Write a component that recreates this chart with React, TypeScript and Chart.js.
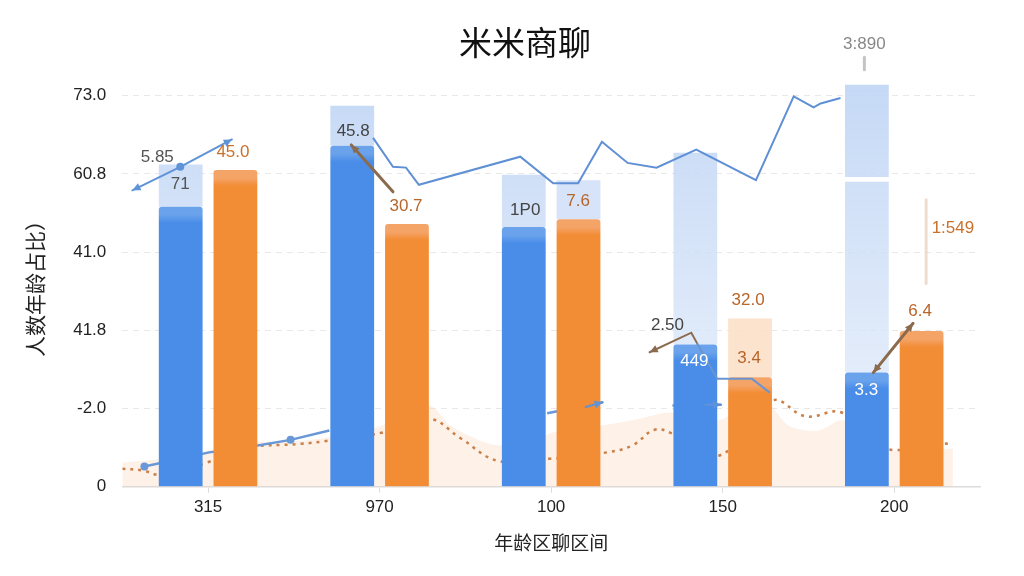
import { useEffect, useRef } from 'react';
import { Chart, registerables } from 'chart.js';

Chart.register(...registerables);

const FONT = "'Liberation Sans', 'Noto Sans CJK SC', sans-serif";
const CJK = "'Noto Sans CJK SC', 'Liberation Sans', sans-serif";

const chartTitle = '米米商聊';
const xTitle = '年龄区聊区间';
const yTitle = '人数年龄占比）';

const categories = ['315', '970', '100', '150', '200'];
const yTickValues = [0, 1, 2, 3, 4, 5];
const yTickLabels = ['0', '-2.0', '41.8', '41.0', '60.8', '73.0'];

const blueValues = [3.58, 4.36, 3.32, 1.82, 1.46];
const orangeValues = [4.05, 3.36, 3.42, 1.40, 1.99];

// pale bars standing behind the solid ones
const blueGhost = [[3.58, 4.12], [4.36, 4.87], [3.32, 3.99], [1.82, 4.27], [1.46, 3.90]];
const blueGhostTop = [null, null, null, null, [3.96, 5.14]];
const orangeGhost = [null, null, [3.42, 3.92], [1.40, 2.15], null];
const orangeGhostColors = ['#fbe3cf', '#fbe3cf', 'rgba(200,218,245,0.75)', 'rgba(251,222,196,0.85)', '#fbe3cf'];

const upperLine: [number, number][] = [
  [0.962, 4.46], [1.078, 4.09], [1.154, 4.08], [1.229, 3.86], [1.820, 4.22], [2.012, 3.88],
  [2.157, 3.88], [2.296, 4.41], [2.446, 4.14], [2.614, 4.08], [2.846, 4.31], [3.194, 3.92],
  [3.414, 4.99], [3.530, 4.85], [3.571, 4.90], [3.687, 4.97],
];

const lowerLine: ([number, number] | null)[] = [
  [-0.371, 0.26], [0.006, 0.44], [0.186, 0.49], [0.481, 0.60], [0.707, 0.72], null,
  [1.977, 0.94], [2.301, 1.08], null, [2.707, 1.04], [2.991, 1.05],
];

const dottedLine: [number, number][] = [
  [-0.5, 0.23], [-0.383, 0.21], [-0.267, 0.15], [-0.006, 0.31], [0.197, 0.49], [0.545, 0.55],
  [0.672, 0.58], [1.009, 0.69], [1.287, 0.87], [1.472, 0.62], [1.693, 0.33], [1.994, 0.36],
  [2.325, 0.44], [2.475, 0.53], [2.603, 0.73], [2.707, 0.68], [2.980, 0.40], [3.287, 1.10],
  [3.484, 0.90], [3.693, 0.95], [3.849, 0.59], [4.006, 0.47], [4.330, 0.56],
];

const areaLine: [number, number][] = [
  [-0.5, 0.31], [-0.267, 0.36], [-0.006, 0.46], [0.197, 0.56], [0.545, 0.59], [0.719, 0.64],
  [1.009, 0.78], [1.287, 1.04], [1.414, 0.78], [1.588, 0.59], [1.704, 0.53], [1.878, 0.59],
  [2.052, 0.72], [2.284, 0.78], [2.516, 0.87], [2.690, 0.95], [2.980, 0.85], [3.212, 1.17],
  [3.386, 0.78], [3.559, 0.72], [3.704, 0.85], [3.849, 0.53], [4.023, 0.46], [4.342, 0.49],
];

const valueLabels = [
  { text: '5.85', x: -0.296, y: 4.21, color: '#555' },
  { text: '71', x: -0.162, y: 3.87, color: '#555' },
  { text: '45.0', x: 0.145, y: 4.28, color: '#c8712c' },
  { text: '45.8', x: 0.846, y: 4.55, color: '#444' },
  { text: '30.7', x: 1.154, y: 3.58, color: '#b8652a' },
  { text: '1P0', x: 1.849, y: 3.53, color: '#444' },
  { text: '7.6', x: 2.157, y: 3.65, color: '#b8652a' },
  { text: '2.50', x: 2.678, y: 2.06, color: '#444' },
  { text: '449', x: 2.835, y: 1.60, color: '#fff' },
  { text: '32.0', x: 3.148, y: 2.38, color: '#b8652a' },
  { text: '3.4', x: 3.154, y: 1.64, color: '#b8652a' },
  { text: '3:890', x: 3.826, y: 5.65, color: '#888' },
  { text: '1:549', x: 4.342, y: 3.31, color: '#c8712c' },
  { text: '6.4', x: 4.151, y: 2.24, color: '#b8652a' },
  { text: '3.3', x: 3.838, y: 1.23, color: '#fff' },
];

const pointers = [
  { pts: [[-0.441, 3.79], [-0.162, 4.09], [0.139, 4.44]], color: '#5f93d8', width: 2, headStart: true, headEnd: true, dot: 1 },
  { pts: [[1.078, 3.77], [0.835, 4.37]], color: '#8b6b4e', width: 3, headStart: false, headEnd: true, dot: -1 },
  { pts: [[2.574, 1.72], [2.817, 1.97], [2.852, 1.83]], color: '#8b6b4e', width: 2, headStart: true, headEnd: false, dot: -1 },
  { pts: [[2.852, 1.83], [2.968, 1.38], [3.171, 1.38], [3.270, 1.21]], color: '#6a95cf', width: 2, headStart: false, headEnd: false, dot: -1 },
  { pts: [[3.878, 1.46], [4.110, 2.09]], color: '#8b6b4e', width: 3, headStart: true, headEnd: true, dot: -1 },
  { pts: [[2.201, 1.02], [2.301, 1.08]], color: '#5f93d8', width: 2, headStart: false, headEnd: true, dot: -1 },
  { pts: [[2.900, 1.05], [2.991, 1.05]], color: '#5f93d8', width: 2, headStart: false, headEnd: true, dot: -1 },
  { pts: [[3.826, 5.49], [3.826, 5.33]], color: '#c4c4c4', width: 3, headStart: false, headEnd: false, dot: -1 },
  { pts: [[4.186, 3.67], [4.186, 2.60]], color: 'rgba(232,205,185,0.7)', width: 3, headStart: false, headEnd: false, dot: -1 },
];

function xy(list: ([number, number] | null)[]) {
  return list.map(p => (p ? { x: p[0], y: p[1] } : { x: NaN, y: null }));
}

// bar values placed at their category index on the shared linear axis
function atIndex(list: any[]) {
  return list.map((v, i) => (v == null ? null : { x: i, y: v })).filter(Boolean);
}

function head(ctx: CanvasRenderingContext2D, fx: number, fy: number, tx: number, ty: number, color: string) {
  const a = Math.atan2(ty - fy, tx - fx);
  const s = 9;
  ctx.beginPath();
  ctx.moveTo(tx, ty);
  ctx.lineTo(tx - s * Math.cos(a - 0.45), ty - s * Math.sin(a - 0.45));
  ctx.lineTo(tx - s * Math.cos(a + 0.45), ty - s * Math.sin(a + 0.45));
  ctx.closePath();
  ctx.fillStyle = color;
  ctx.fill();
}

const overlay = {
  id: 'overlay',
  afterDatasetsDraw(chart: any) {
    const { ctx } = chart;
    const xs = chart.scales.x2;
    const ys = chart.scales.y;
    ctx.save();
    for (const p of pointers) {
      const px = p.pts.map(q => [xs.getPixelForValue(q[0]), ys.getPixelForValue(q[1])]);
      ctx.strokeStyle = p.color;
      ctx.lineWidth = p.width;
      ctx.lineCap = 'round';
      ctx.beginPath();
      px.forEach((q, i) => (i ? ctx.lineTo(q[0], q[1]) : ctx.moveTo(q[0], q[1])));
      ctx.stroke();
      const n = px.length - 1;
      if (p.headEnd) head(ctx, px[n - 1][0], px[n - 1][1], px[n][0], px[n][1], p.color);
      if (p.headStart) head(ctx, px[1][0], px[1][1], px[0][0], px[0][1], p.color);
      if (p.dot >= 0) {
        ctx.beginPath();
        ctx.arc(px[p.dot][0], px[p.dot][1], 4, 0, Math.PI * 2);
        ctx.fillStyle = p.color;
        ctx.fill();
      }
    }
    ctx.font = `17px ${FONT}`;
    ctx.textAlign = 'center';
    ctx.textBaseline = 'middle';
    for (const l of valueLabels) {
      ctx.fillStyle = l.color;
      ctx.fillText(l.text, xs.getPixelForValue(l.x), ys.getPixelForValue(l.y));
    }
    ctx.restore();
  },
  afterDraw(chart: any) {
    const { ctx } = chart;
    ctx.save();
    ctx.font = `400 33px ${CJK}`;
    ctx.fillStyle = '#111';
    ctx.textAlign = 'center';
    ctx.textBaseline = 'middle';
    ctx.fillText(chartTitle, 525, 42);
    ctx.restore();
  },
};

function barFill(base: string, light: string) {
  return (c: any) => {
    const { chart, parsed } = c;
    if (!chart.chartArea || !parsed || parsed.y == null) return base;
    const top = chart.scales.y.getPixelForValue(parsed.y);
    const g = chart.ctx.createLinearGradient(0, top, 0, top + 16);
    g.addColorStop(0, light);
    g.addColorStop(0.5, light);
    g.addColorStop(1, base);
    return g;
  };
}

function ghostFill(c: any) {
  const { chart } = c;
  if (!chart.chartArea) return 'rgba(200,218,245,0.75)';
  const { top, bottom } = chart.chartArea;
  const g = chart.ctx.createLinearGradient(0, top, 0, bottom);
  g.addColorStop(0, 'rgba(190,212,244,0.9)');
  g.addColorStop(1, 'rgba(228,237,251,0.7)');
  return g;
}

export default function App() {
  const canvasRef = useRef<HTMLCanvasElement>(null);

  useEffect(() => {
    document.body.style.margin = '0';
    if (!canvasRef.current) return;
    const ctx = canvasRef.current.getContext('2d')!;

    const bar = { xAxisID: 'x2', categoryPercentage: 0.638, barPercentage: 0.8, borderSkipped: 'bottom' as const };
    const line = { xAxisID: 'x2', pointRadius: 0, fill: false };

    const chart = new Chart(ctx, {
      data: {
        labels: categories,
        datasets: [
          { type: 'bar', label: 'blue', data: atIndex(blueValues) as any, stack: 'b', order: 1, backgroundColor: barFill('#4a8de8', '#6aa2ec'), borderRadius: 3, ...bar },
          { type: 'bar', label: 'orange', data: atIndex(orangeValues) as any, stack: 'o', order: 1, backgroundColor: barFill('#f28c35', '#f5a468'), borderRadius: 3, ...bar },
          { type: 'bar', label: 'blueGhost', data: atIndex(blueGhost) as any, stack: 'b', order: 5, backgroundColor: ghostFill, ...bar },
          { type: 'bar', label: 'blueGhostTop', data: atIndex(blueGhostTop) as any, stack: 'b', order: 5, backgroundColor: ghostFill, ...bar },
          {
            type: 'bar', label: 'orangeGhost', data: atIndex(orangeGhost) as any, stack: 'o', order: 5,
            backgroundColor: (c: any) => orangeGhostColors[c.raw ? c.raw.x : 0], ...bar,
          },
          {
            type: 'line', label: 'area', data: xy(areaLine) as any, order: 4, ...line,
            borderWidth: 0, fill: 'origin', backgroundColor: 'rgba(248,212,182,0.32)', tension: 0.3,
          },
          {
            type: 'line', label: 'dotted', data: xy(dottedLine) as any, order: 3, ...line,
            borderColor: '#c9804a', borderWidth: 2.5, borderDash: [3, 5], tension: 0.4,
          },
          {
            type: 'line', label: 'upper', data: xy(upperLine) as any, order: 2, ...line,
            borderColor: '#5f8fd4', borderWidth: 2, tension: 0,
          },
          {
            type: 'line', label: 'lower', data: xy(lowerLine) as any, order: 2, ...line,
            borderColor: '#6898d8', borderWidth: 2.5, pointRadius: [4, 0, 0, 4, 0, 0, 0, 0, 0, 0, 0], pointBackgroundColor: '#6898d8',
            pointBorderWidth: 0, tension: 0, spanGaps: false,
          },
        ],
      },
      options: {
        responsive: true,
        maintainAspectRatio: false,
        animation: false,
        layout: { padding: { top: 80, right: 44, bottom: 22, left: 22 } },
        plugins: { legend: { display: false }, tooltip: { enabled: false } },
        scales: {
          x: {
            type: 'category',
            offset: true,
            grid: { offset: false, drawOnChartArea: false, tickLength: 6, color: '#dcdcdc' },
            border: { color: '#dcdcdc', width: 1.5 },
            ticks: { color: '#222', font: { family: FONT, size: 17 }, padding: 4 },
            title: { display: true, text: xTitle, color: '#222', font: { family: CJK, size: 19 }, padding: { top: 10, bottom: 0 } },
          },
          x2: {
            type: 'linear', display: false, min: -0.5, max: 4.5, offset: false, grid: { offset: false },
            afterBuildTicks: (s: any) => { s.ticks = categories.map((_, i) => ({ value: i })); },
          },
          y: {
            stacked: false,
            min: 0,
            max: 5.2,
            afterBuildTicks: (s: any) => { s.ticks = yTickValues.map(v => ({ value: v })); },
            grid: { color: 'rgba(0,0,0,0.09)', drawTicks: false, lineWidth: 1 },
            border: { display: false, dash: [6, 5] },
            ticks: {
              color: '#222', font: { family: FONT, size: 17 }, padding: 16,
              callback: (v: any) => yTickLabels[yTickValues.indexOf(Number(v))] ?? '',
            },
            title: { display: true, text: yTitle, color: '#222', font: { family: CJK, size: 21 }, padding: { top: 0, bottom: 10 } },
          },
        },
      },
      plugins: [overlay],
    });

    return () => chart.destroy();
  }, []);

  return (
    <div style={{ width: 1024, height: 576, position: 'relative', background: '#fff' }}>
      <canvas ref={canvasRef} />
    </div>
  );
}
